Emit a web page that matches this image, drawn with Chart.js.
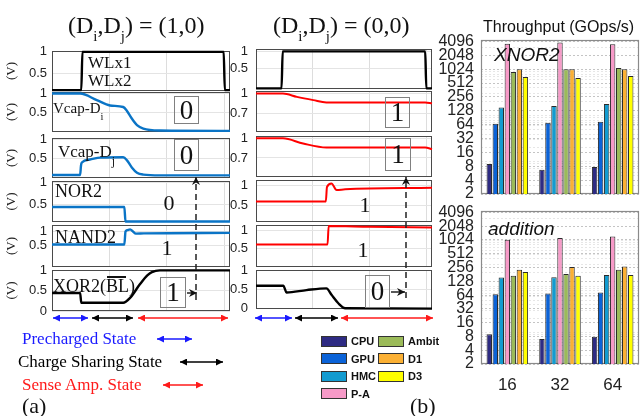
<!DOCTYPE html>
<html>
<head>
<meta charset="utf-8">
<script src="https://cdn.jsdelivr.net/npm/chart.js@4.4.0/dist/chart.umd.min.js"></script>
<style>
  html, body { margin: 0; padding: 0; background: #fff; overflow: hidden; }
  #fig { position: relative; width: 640px; height: 416px; overflow: hidden; }
  #fig canvas { position: absolute; }
  .t { position: absolute; font-family: "Liberation Serif", "Times New Roman", serif; white-space: nowrap; line-height: 1; color: #111; z-index: 5; }
  .sb { font-size: 0.62em; position: relative; top: 0.55em; }
  .sb2 { font-size: 0.7em; position: relative; top: 0.7em; }
  .box { position: absolute; border: 1.5px solid #808080; box-sizing: border-box; font-family: "Liberation Serif", serif; font-size: 27px; line-height: 1; display: flex; align-items: center; justify-content: center; color: #111; z-index: 5; }
  .dig { position: absolute; width: 20px; text-align: center; font-family: "Liberation Serif", serif; font-size: 22px; line-height: 1; color: #111; z-index: 5; }
  .s { position: absolute; font-family: "Liberation Sans", Arial, sans-serif; white-space: nowrap; line-height: 1; color: #111; z-index: 5; }
  .sw { position: absolute; width: 26px; height: 11px; box-sizing: border-box; border: 1px solid #333; z-index: 5; }
  .bar { position: absolute; height: 1.6px; background: #111; z-index: 5; }
  svg { position: absolute; left: 0; top: 0; z-index: 6; }
</style>
</head>
<body>
<div id="fig">
  <!-- panel titles -->
  <div class="t" style="left:68px;top:13px;font-size:24px">(D<span class="sb">i</span>,D<span class="sb">j</span>) = (1,0)</div>
  <div class="t" style="left:273px;top:13px;font-size:24px">(D<span class="sb">i</span>,D<span class="sb">j</span>) = (0,0)</div>

  <!-- trace labels, panel (a) -->
  <div class="t" style="left:88px;top:54px;font-size:17px">WLx1</div>
  <div class="t" style="left:88px;top:72px;font-size:17px">WLx2</div>
  <div class="t" style="left:53px;top:101px;font-size:15px">Vcap-D<span class="sb2">i</span></div>
  <div class="t" style="left:58px;top:143px;font-size:17px">Vcap-D<span class="sb2">j</span></div>
  <div class="t" style="left:55px;top:182px;font-size:18px">NOR2</div>
  <div class="t" style="left:55px;top:228px;font-size:18px">NAND2</div>
  <div class="t" style="left:53px;top:277px;font-size:18px">XOR2(BL)</div>
  <div class="bar" style="left:107px;top:276px;width:19px"></div>

  <!-- result digits -->
  <div class="box" style="left:174px;top:96px;width:25px;height:28px">0</div>
  <div class="box" style="left:174px;top:139px;width:25px;height:32px">0</div>
  <div class="dig" style="left:159px;top:192px">0</div>
  <div class="dig" style="left:157px;top:237px">1</div>
  <div class="box" style="left:160px;top:277px;width:26px;height:31px">1</div>

  <div class="box" style="left:385px;top:97px;width:25px;height:31px">1</div>
  <div class="box" style="left:385px;top:138px;width:26px;height:33px">1</div>
  <div class="dig" style="left:355px;top:194px">1</div>
  <div class="dig" style="left:353px;top:239px">1</div>
  <div class="box" style="left:365px;top:275px;width:25px;height:33px">0</div>

  <!-- state legend -->
  <div class="t" style="left:22px;top:330px;font-size:17px;color:#1a1aff">Precharged State</div>
  <div class="t" style="left:18px;top:353px;font-size:17px;color:#000">Charge Sharing State</div>
  <div class="t" style="left:22px;top:376px;font-size:17px;color:#ff1a1a">Sense Amp. State</div>
  <div class="t" style="left:22px;top:395px;font-size:22px">(a)</div>
  <div class="t" style="left:410px;top:395px;font-size:22px">(b)</div>

  <!-- throughput labels -->
  <div class="s" style="left:483px;top:19px;font-size:16px">Throughput (GOps/s)</div>
  <div class="s" style="left:494px;top:45px;font-size:19px;font-style:italic">XNOR2</div>
  <div class="s" style="left:488px;top:219px;font-size:19px;font-style:italic">addition</div>

  <svg width="640" height="416">
    <defs>
      <marker id="mBlue" viewBox="0 0 10 10" refX="10" refY="5" markerWidth="8" markerHeight="7" markerUnits="userSpaceOnUse" orient="auto-start-reverse"><path d="M0,0 L10,5 L0,10 z" fill="#1a1aff"/></marker>
      <marker id="mBlack" viewBox="0 0 10 10" refX="10" refY="5" markerWidth="8" markerHeight="7" markerUnits="userSpaceOnUse" orient="auto-start-reverse"><path d="M0,0 L10,5 L0,10 z" fill="#000"/></marker>
      <marker id="mRed" viewBox="0 0 10 10" refX="10" refY="5" markerWidth="8" markerHeight="7" markerUnits="userSpaceOnUse" orient="auto-start-reverse"><path d="M0,0 L10,5 L0,10 z" fill="#ff1a1a"/></marker>
      <marker id="mDash" viewBox="0 0 10 10" refX="10" refY="5" markerWidth="9" markerHeight="8" markerUnits="userSpaceOnUse" orient="auto"><path d="M0,0 L10,5 L0,10 L3,5 z" fill="#111"/></marker>
    </defs>
    <g stroke-width="1.6">
      <line x1="53" y1="318" x2="88" y2="318" stroke="#1a1aff" marker-start="url(#mBlue)" marker-end="url(#mBlue)"/>
      <line x1="92" y1="318" x2="133" y2="318" stroke="#000" marker-start="url(#mBlack)" marker-end="url(#mBlack)"/>
      <line x1="138" y1="318" x2="228" y2="318" stroke="#ff1a1a" marker-start="url(#mRed)" marker-end="url(#mRed)"/>
      <line x1="255" y1="318" x2="292" y2="318" stroke="#1a1aff" marker-start="url(#mBlue)" marker-end="url(#mBlue)"/>
      <line x1="295" y1="318" x2="338" y2="318" stroke="#000" marker-start="url(#mBlack)" marker-end="url(#mBlack)"/>
      <line x1="341" y1="318" x2="433" y2="318" stroke="#ff1a1a" marker-start="url(#mRed)" marker-end="url(#mRed)"/>

      <line x1="157" y1="339" x2="192" y2="339" stroke="#1a1aff" marker-start="url(#mBlue)" marker-end="url(#mBlue)"/>
      <line x1="180" y1="362" x2="223" y2="362" stroke="#000" marker-start="url(#mBlack)" marker-end="url(#mBlack)"/>
      <line x1="163" y1="385" x2="203" y2="385" stroke="#ff1a1a" marker-start="url(#mRed)" marker-end="url(#mRed)"/>
    </g>
    <g stroke="#222" stroke-width="1.5" fill="none">
      <line x1="187" y1="293" x2="197" y2="293" marker-end="url(#mDash)"/>
      <line x1="196" y1="300" x2="196" y2="177" stroke-dasharray="6 4" marker-end="url(#mDash)"/>
      <line x1="391" y1="292" x2="405" y2="292" marker-end="url(#mDash)"/>
      <line x1="406" y1="298" x2="406" y2="177" stroke-dasharray="6 4" marker-end="url(#mDash)"/>
    </g>
  </svg>
</div>

<script>
// ---- transient traces (time in ns, voltages in V) ----
const tMax = 31;
const timeGrid = [10, 20, 30];

// (Di,Dj) = (1,0)
const tWlA = [0, 5.1, 5.3, 29.9, 30.1, 31];
const wlA = [0.12, 0.12, 1, 1, 0.12, 0.12];
const tVdiA = [0, 4.9, 7.8, 10.1, 12.4, 13, 13.9, 14.8, 15.9, 18.8, 31];
const vdiA = [1, 1, 0.83, 0.69, 0.65, 0.56, 0.35, 0.18, 0.09, 0.04, 0.03];
const tVdjA = [0, 4.9, 5.05, 5.2, 6.6, 8.4, 12.4, 13.1, 13.9, 14.8, 15.9, 18.8, 31];
const vdjA = [0.05, 0.05, 0.3, 0.38, 0.46, 0.51, 0.52, 0.43, 0.25, 0.11, 0.06, 0.04, 0.04];
const tNorA = [0, 12.6, 12.8, 31];
const norA = [0.43, 0.43, 0.09, 0.09];
const tNandA = [0, 12.6, 12.8, 13.1, 13.6, 14.1, 14.6, 16, 31];
const nandA = [0.52, 0.52, 1.0, 1.05, 1.08, 1.0, 0.92, 0.93, 0.95];
const tXorA = [0, 4.9, 5.1, 12.4, 13.6, 15.3, 16.6, 17.4, 18.8, 31];
const xorA = [0.44, 0.44, 0.2, 0.2, 0.32, 0.65, 0.87, 0.95, 0.99, 0.99];

// (Di,Dj) = (0,0)
const tWlB = [0, 4.5, 4.7, 29.8, 30, 31];
const wlB = [-0.1, -0.1, 1, 1, -0.1, -0.1];
const tVdiB = [0, 4.75, 7.2, 10.1, 12.4, 29.8, 31];
const vdiB = [1, 1, 0.95, 0.9, 0.865, 0.865, 0.85];
const tVdjB = [0, 4.75, 8.3, 12.4, 29.8, 31];
const vdjB = [1, 1, 0.92, 0.86, 0.86, 0.835];
const tNorB = [0, 12.3, 12.5, 13.3, 14.2, 15.7, 31];
const norB = [0.6, 0.6, 0.97, 1.06, 0.89, 0.91, 0.95];
const tNandB = [0, 12.6, 12.8, 20, 31];
const nandB = [0.61, 0.61, 1.11, 1.09, 1.07];
const tXorB = [0, 4.8, 5.4, 8.9, 12.4, 13.3, 14.5, 15.7, 31];
const xorB = [0.59, 0.59, 0.41, 0.475, 0.52, 0.35, 0.13, 0.0, -0.01];

// y limits and tick labels of each subplot
const rangesA = [[0.1, 1.02], [0, 1.04], [-0.03, 1.03], [0.08, 1.04], [-0.31, 1.24], [0, 1.0]];
const ticksA = [[0.5, 1], [0.5, 1], [0.5, 1], [0.5, 1], [0.5, 1], [0, 0.5, 1]];
const rangesB = [[-0.12, 1.07], [0.41, 1.04], [0.41, 1.035], [0.07, 1.15], [0, 1.14], [-0.02, 1.0]];
const ticksB = [[0.5, 1], [0.7, 1], [0.7, 1], [0.5, 1], [0.5, 1], [0, 0.5, 1]];

// ---- throughput (GOps/s), bars per architecture ----
const sizes = ['16', '32', '64'];
const archs = ['CPU', 'GPU', 'HMC', 'P-A', 'Ambit', 'D1', 'D3'];
const xnor16 = [9, 67, 150, 3660, 890, 1024, 694];
const xnor32 = [6.7, 70, 162, 3900, 1024, 1024, 657];
const xnor64 = [7.7, 74, 180, 3540, 1085, 1024, 725];
const add16 = [8.9, 67, 155, 1040, 169, 229, 204];
const add32 = [7, 69, 158, 1130, 184, 262, 169];
const add64 = [7.9, 73, 175, 1225, 229, 270, 175];
const pow2Ticks = [2, 4, 8, 16, 32, 64, 128, 256, 512, 1024, 2048, 4096];
const minorTicks = [3, 5, 6, 7, 9, 10, 20, 30, 40, 50, 60, 70, 80, 90, 100, 200, 300, 400, 500, 600, 700, 800, 900, 1000, 2000, 3000, 4000];

const archColors = ['#2e2b83', '#0b63d8', '#129bd0', '#f79ac8', '#9bbb59', '#fbb034', '#ffff00'];
const blue = '#0a74c6', red = '#ff0000', black = '#000000';

const layoutA = { left: 2, axisW: 50, right: 230, tickPad: 5, tops: [51, 92, 138, 181, 225, 270], bottoms: [91, 132, 178, 222, 267, 311] };
const layoutB = { left: 226, axisW: 30, right: 432, tickPad: 8, tops: [49, 91, 136, 180, 225, 270], bottoms: [89, 132, 177, 222, 267, 309] };
const PAD = 17; // room for half a tick label plus its padding

const fig = document.getElementById('fig');

function addCanvas(left, top, w, h) {
  const c = document.createElement('canvas');
  c.width = w;
  c.height = h;
  c.style.left = left + 'px';
  c.style.top = top + 'px';
  fig.appendChild(c);
  return c;
}

// box around the plot area, like matlab axes
const framePlugin = {
  id: 'frame',
  beforeDatasetsDraw(chart, args, opts) {
    const { ctx, chartArea: a } = chart;
    ctx.save();
    ctx.strokeStyle = opts.color || '#555';
    ctx.lineWidth = opts.width || 1;
    ctx.strokeRect(a.left + 0.5, a.top + 0.5, a.right - a.left - 1, a.bottom - a.top - 1);
    ctx.restore();
  }
};
Chart.register(framePlugin);

function traceChart(L, row, t, v, color, range, ticks, withTitle) {
  const top = L.tops[row], bottom = L.bottoms[row];
  const c = addCanvas(L.left, top - PAD, L.right + 2 - L.left, bottom - top + 2 * PAD);
  new Chart(c, {
    type: 'line',
    data: {
      datasets: [{
        data: t.map((x, i) => ({ x: x, y: v[i] })),
        borderColor: color,
        borderWidth: color === red ? 2 : 2.4,
        pointRadius: 0,
        cubicInterpolationMode: 'monotone',
        clip: 6
      }]
    },
    options: {
      responsive: false,
      animation: false,
      events: [],
      layout: { padding: { top: PAD, bottom: PAD, left: 0, right: 2 } },
      plugins: {
        legend: { display: false },
        tooltip: { enabled: false },
        frame: { color: '#4a4a4a', width: 1 }
      },
      scales: {
        x: {
          type: 'linear', min: 0, max: tMax,
          afterBuildTicks: s => { s.ticks = timeGrid.map(value => ({ value })); },
          afterFit: s => { s.height = 0; },
          ticks: { display: false },
          grid: { color: '#dddddd', drawTicks: false },
          border: { display: false }
        },
        y: {
          min: range[0], max: range[1],
          afterBuildTicks: s => { s.ticks = ticks.map(value => ({ value })); },
          afterFit: s => { s.width = L.axisW; },
          ticks: {
            autoSkip: false,
            padding: L.tickPad,
            color: '#222',
            font: { family: 'Liberation Sans', size: 13 },
            callback: val => String(val)
          },
          grid: { color: '#e4e4e4', drawTicks: false },
          border: { display: false },
          title: {
            display: withTitle, text: '(V)', color: '#222',
            padding: { top: 2, bottom: 0 },
            font: { family: 'Liberation Serif', size: 13 }
          }
        }
      }
    }
  });
}

const tracesA = [[tWlA, wlA, black], [tVdiA, vdiA, blue], [tVdjA, vdjA, blue], [tNorA, norA, blue], [tNandA, nandA, blue], [tXorA, xorA, black]];
const tracesB = [[tWlB, wlB, black], [tVdiB, vdiB, red], [tVdjB, vdjB, red], [tNorB, norB, red], [tNandB, nandB, red], [tXorB, xorB, black]];

tracesA.forEach((tr, i) => traceChart(layoutA, i, tr[0], tr[1], tr[2], rangesA[i], ticksA[i], true));
tracesB.forEach((tr, i) => traceChart(layoutB, i, tr[0], tr[1], tr[2], rangesB[i], ticksB[i], false));

// ---- bar charts on a log2 axis ----
function barChart(areaTop, areaBottom, rows, showX) {
  const xH = showX ? 30 : 0;
  const c = addCanvas(430, areaTop - PAD, 212, areaBottom - areaTop + 2 * PAD + xH);
  new Chart(c, {
    type: 'bar',
    data: {
      labels: sizes,
      datasets: archs.map((name, i) => ({
        label: name,
        data: rows.map(r => r[i]),
        backgroundColor: archColors[i],
        borderColor: '#2a2a2a',
        borderWidth: 1,
        categoryPercentage: 0.8,
        barPercentage: 0.9
      }))
    },
    options: {
      responsive: false,
      animation: false,
      events: [],
      layout: { padding: { top: PAD, bottom: PAD, left: 0, right: 3 } },
      plugins: {
        legend: { display: false },
        tooltip: { enabled: false },
        frame: { color: '#8a8a8a', width: 1.2 }
      },
      scales: {
        x: {
          grid: { display: false },
          border: { display: false },
          afterFit: s => { s.height = xH; },
          ticks: {
            display: showX,
            padding: 3,
            color: '#222',
            font: { family: 'Liberation Sans', size: 17 }
          }
        },
        y: {
          type: 'logarithmic', min: 2, max: 4400,
          afterBuildTicks: s => {
            s.ticks = pow2Ticks.concat(minorTicks).sort((a, b) => a - b).map(value => ({ value }));
          },
          afterFit: s => { s.width = 51; },
          ticks: {
            autoSkip: false,
            padding: 7,
            color: '#222',
            font: { family: 'Liberation Sans', size: 16 },
            callback: val => (pow2Ticks.includes(val) ? String(val) : '')
          },
          grid: {
            drawTicks: false,
            color: ctx => (ctx.tick && pow2Ticks.includes(ctx.tick.value) ? '#c4c4c4' : '#e6e6e6')
          },
          border: { display: false, dash: [2, 2] }
        }
      }
    }
  });
}

barChart(40, 194, [xnor16, xnor32, xnor64], false);
barChart(211, 364, [add16, add32, add64], true);

// legend for the bars
const legendCols = [321, 378];
const legendRows = [341, 358.5, 376, 393.5];
archs.forEach((name, i) => {
  const col = i < 4 ? 0 : 1;
  const row = i < 4 ? i : i - 4;
  const sw = document.createElement('div');
  sw.className = 'sw';
  sw.style.left = legendCols[col] + 'px';
  sw.style.top = (legendRows[row] - 5.5) + 'px';
  sw.style.background = archColors[i];
  fig.appendChild(sw);
  const tx = document.createElement('div');
  tx.className = 's';
  tx.style.left = (legendCols[col] + 30) + 'px';
  tx.style.top = (legendRows[row] - 5) + 'px';
  tx.style.fontSize = '11px';
  tx.style.fontWeight = 'bold';
  tx.textContent = name;
  fig.appendChild(tx);
});
</script>
</body>
</html>
